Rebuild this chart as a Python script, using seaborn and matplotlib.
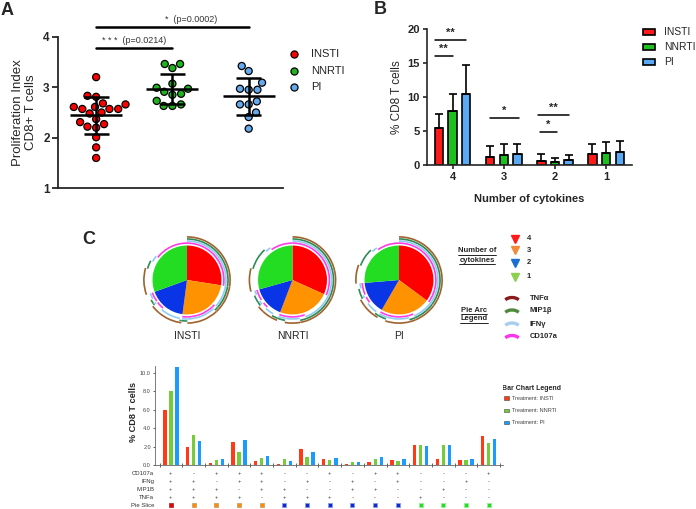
import numpy as np
import pandas as pd
import seaborn as sns
import matplotlib.pyplot as plt
from matplotlib.patches import Arc, Rectangle
from matplotlib.transforms import blended_transform_factory

# ---- data ----
treatments = ['INSTI', 'NNRTI', 'PI']

# A: proliferation index of CD8+ T cells, one value per patient
prolif_insti = [3.20, 2.81, 2.83, 2.68, 2.66, 2.57, 2.57, 2.61, 2.57, 2.61,
                2.50, 2.48, 2.31, 2.37, 2.27, 2.20, 2.22, 2.01, 1.81, 1.60]
prolif_nnrti = [3.46, 3.38, 3.46, 2.99, 2.91, 3.07, 2.85, 2.87, 2.97, 2.73,
                2.63, 2.63, 2.66]
prolif_pi = [3.42, 3.32, 2.95, 2.95, 2.97, 3.09, 2.72, 2.66, 2.66, 2.50,
             2.41, 2.18]

# B: % CD8 T cells by number of cytokines (mean + SD)
n_cytokines = ['4', '3', '2', '1']
mean_insti = [5.45, 1.25, 0.55, 1.55]
mean_nnrti = [7.9, 1.45, 0.5, 1.8]
mean_pi = [10.5, 1.65, 0.7, 1.87]
sd_insti = [2.05, 1.6, 1.02, 1.5]
sd_nnrti = [2.5, 1.6, 0.6, 1.65]
sd_pi = [4.2, 1.5, 0.75, 1.63]

# C: cytokine combinations (CD107a, IFNg, MIP1B, TNFa)
cd107a = list('+-+++--+-++---+')
ifng   = list('++-++-+-+-+--+-')
mip1b  = list('+++-++--++--+--')
tnfa   = list('++++-+++---+---')
combo_insti = [5.95, 2.0, 0.3, 2.55, 0.48, 0.19, 1.8, 0.72, 0.15, 0.36, 0.54, 2.17, 0.72, 0.58, 3.15]
combo_nnrti = [8.0, 3.25, 0.6, 1.48, 0.74, 0.63, 0.92, 0.6, 0.4, 0.72, 0.47, 2.2, 2.2, 0.58, 2.42]
combo_pi = [10.6, 2.6, 0.67, 2.78, 0.96, 0.48, 1.44, 0.83, 0.33, 0.9, 0.65, 2.13, 2.2, 0.72, 2.9]

W, H = 696, 509


def box(l, t, r, b):
    # pixel box -> figure fraction
    return [l / W, 1 - b / H, (r - l) / W, (b - t) / H]


sns.set_style('ticks')
plt.rcParams['font.family'] = ['Liberation Sans', 'DejaVu Sans']

fig = plt.figure(figsize=(W / 100, H / 100), dpi=100)

# overlay in pixel coordinates for labels / legends
ov = fig.add_axes([0, 0, 1, 1])
ov.set_xlim(0, W)
ov.set_ylim(H, 0)
ov.axis('off')

# ---------------- Panel A ----------------
colA = {'INSTI': '#ff0000', 'NNRTI': '#1fb41f', 'PI': '#66aaee'}
df_a = pd.DataFrame({
    'treatment': ['INSTI'] * len(prolif_insti) + ['NNRTI'] * len(prolif_nnrti) + ['PI'] * len(prolif_pi),
    'value': prolif_insti + prolif_nnrti + prolif_pi,
})
axA = fig.add_axes(box(58, 36.7, 283, 188.3))
sns.swarmplot(data=df_a, x='treatment', y='value', hue='treatment', order=treatments,
              palette=colA, size=5.1, edgecolor='black', linewidth=0.9, legend=False, ax=axA)
for i, t in enumerate(treatments):
    v = df_a.loc[df_a.treatment == t, 'value']
    m, s = v.mean(), v.std()
    axA.hlines(m, i - 0.34, i + 0.34, color='black', lw=1.8, zorder=5)
    axA.vlines(i, m - s, m + s, color='black', lw=1.8, zorder=5)
    axA.hlines([m - s, m + s], i - 0.165, i + 0.165, color='black', lw=1.8, zorder=5)
axA.set_xlim(-0.5, 2.45)
axA.set_ylim(1, 4)
axA.set_yticks([1, 2, 3, 4])
axA.set_yticklabels(['1', '2', '3', '4'], fontweight='bold', fontsize=8.5)
axA.set_xticks([])
axA.set_xlabel('')
axA.set_ylabel('Proliferation Index\nCD8+ T cells', fontsize=9.5, labelpad=4)
axA.tick_params(axis='y', length=4, width=1.3, pad=2)
for sp in ['left', 'bottom']:
    axA.spines[sp].set_linewidth(1.3)
sns.despine(ax=axA)
axA.plot([0, 1], [3.78, 3.78], color='black', lw=1.8, clip_on=False)
axA.text(0.5, 3.83, '* * *  (p=0.0214)', ha='center', va='bottom', fontsize=6.5, color='#333333')
axA.plot([0, 2], [4.2, 4.2], color='black', lw=1.8, clip_on=False)
axA.text(1.25, 4.25, '*  (p=0.0002)', ha='center', va='bottom', fontsize=6.5, color='#333333')

for k, t in enumerate(treatments):
    y = 54.3 + 16.5 * k
    ov.plot(294, y, 'o', ms=5.1, mfc=colA[t], mec='black', mew=0.9)
    ov.text(311, y, t, va='center', ha='left', fontsize=8)

# ---------------- Panel B ----------------
colB = {'INSTI': '#ff1a1a', 'NNRTI': '#1fbf1f', 'PI': '#5aa9f5'}
df_b = pd.DataFrame({
    'cyt': n_cytokines * 3,
    'treatment': ['INSTI'] * 4 + ['NNRTI'] * 4 + ['PI'] * 4,
    'pct': mean_insti + mean_nnrti + mean_pi,
})
axB = fig.add_axes(box(427, 29.3, 631.7, 165))
sns.barplot(data=df_b, x='cyt', y='pct', hue='treatment', order=n_cytokines, hue_order=treatments,
            palette=colB, saturation=1, width=0.8, gap=0.38, errorbar=None,
            edgecolor='black', linewidth=1.2, legend=False, ax=axB)
for cont, sds in zip(axB.containers, [sd_insti, sd_nnrti, sd_pi]):
    for bar, s in zip(cont, sds):
        x = bar.get_x() + bar.get_width() / 2
        axB.errorbar(x, bar.get_height(), yerr=[[0], [s]], color='black', lw=1.2,
                     capsize=2.8, capthick=1.2, zorder=1)
axB.set_xlim(-0.5, 3.5)
axB.set_ylim(0, 20)
axB.set_yticks([0, 5, 10, 15, 20])
axB.set_yticklabels(['0', '5', '10', '15', '20'], fontweight='bold', fontsize=8)
axB.set_xticks(range(4))
axB.set_xticklabels(n_cytokines, fontweight='bold', fontsize=8)
axB.set_xlabel('Number of cytokines', fontweight='bold', fontsize=8, labelpad=9)
axB.set_ylabel('% CD8 T cells', fontsize=8.5, labelpad=3)
axB.tick_params(length=3, width=1.2, pad=2)
for sp in ['left', 'bottom']:
    axB.spines[sp].set_linewidth(1.2)
sns.despine(ax=axB)

# significance brackets (group, x0 offset, x1 offset, y, label)
sig_b = [(0, -0.35, 0.27, 18.4, '**'), (0, -0.35, 0.0, 16.0, '**'),
         (1, -0.27, 0.29, 6.9, '*'), (2, -0.33, 0.28, 7.4, '**'), (2, -0.29, 0.04, 4.8, '*')]
for g, a, b, y, lab in sig_b:
    axB.plot([g + a, g + b], [y, y], color='black', lw=1.1)
    axB.text(g + (a + b) / 2, y + 0.35, lab, ha='center', va='bottom', fontsize=8, fontweight='bold')

for k, t in enumerate(treatments):
    y = 31.5 + 15.3 * k
    ov.add_patch(Rectangle((642.5, y - 3), 12.5, 6, facecolor=colB[t], edgecolor='black', lw=1.2))
    ov.text(664, y, t, va='center', ha='left', fontsize=7.4)

# ---------------- Panel C: pies ----------------
slice_cols = ['#ff0000', '#ff9200', '#0a35e6', '#22dd22']
rings = [(cd107a, 1.07, '#ff3de6'), (ifng, 1.13, '#8fcdf2'),
         (mip1b, 1.19, '#2e8b57'), (tnfa, 1.25, '#a0622d')]
n_pos = [sum(c[j] == '+' for c in (cd107a, ifng, mip1b, tnfa)) for j in range(15)]

for t, vals, cx in zip(treatments, [combo_insti, combo_nnrti, combo_pi], [187, 292.5, 399]):
    cy = 280
    pax = fig.add_axes(box(cx - 50, cy - 50, cx + 50, cy + 50))
    slices = [sum(v for v, n in zip(vals, n_pos) if n == k) for k in [4, 3, 2, 1]]
    pax.pie(slices, colors=slice_cols, startangle=90, counterclock=False, radius=1,
            wedgeprops={'linewidth': 0, 'edgecolor': 'none'})
    total = sum(vals)
    start = 90
    for j, v in enumerate(vals):
        span = 360 * v / total
        for flags, r, c in rings:
            if flags[j] == '+':
                pax.add_patch(Arc((0, 0), 2 * r, 2 * r, theta1=start - span, theta2=start,
                                  color=c, lw=1.2))
        start -= span
    pax.set_xlim(-1.45, 1.45)
    pax.set_ylim(-1.45, 1.45)
    pax.axis('off')
    ov.text(cx, 336, t, ha='center', va='center', fontsize=7.5)

# legend for pies
renderer = fig.canvas.get_renderer()


def underlined(x, y, s):
    txt = ov.text(x, y, s, ha='center', va='center', fontsize=5.5, fontweight='bold')
    bb = txt.get_window_extent(renderer=renderer).transformed(ov.transData.inverted())
    ov.plot([bb.x0, bb.x1], [y + 3.6, y + 3.6], color='black', lw=0.6)


underlined(477, 251, 'Number of')
underlined(477, 260, 'cytokines')
underlined(474, 310, 'Pie Arc')
underlined(474, 319, 'Legend')

tri_cols = ['#ff1a1a', '#f28c3c', '#1a6fd0', '#8cd050']
for lab, y, c in zip(['4', '3', '2', '1'], [239, 250, 262.7, 276.7], tri_cols):
    ov.plot(515, y, marker='v', ms=6, color=c)
    ov.text(527, y, lab, va='center', ha='left', fontsize=5.5, fontweight='bold')

arc_leg = [('TNFα', '#8b1a1a'), ('MIP1β', '#4f8a3c'), ('IFNγ', '#a8cdef'), ('CD107a', '#ff33ee')]
for (lab, c), y in zip(arc_leg, [299, 311.5, 324.5, 337]):
    ov.add_patch(Arc((512, y + 5.5), 18, 14, theta1=215, theta2=325, color=c, lw=2.4))
    ov.text(530, y - 0.5, lab, va='center', ha='left', fontsize=5.5, fontweight='bold')

ov.text(502, 388, 'Bar Chart Legend', ha='left', va='center', fontsize=5, fontweight='bold')
colC = {'INSTI': '#ff3a14', 'NNRTI': '#72cd38', 'PI': '#1a9bff'}
for t, y in zip(treatments, [398, 410.5, 422.5]):
    ov.add_patch(Rectangle((504, y - 1.8), 5, 3.6, facecolor=colC[t], edgecolor='#444444', lw=0.4))
    ov.text(511.5, y, 'Treatment: ' + t, va='center', ha='left', fontsize=4, color='#444444')

# ---------------- Panel C: combination bars ----------------
df_c = pd.DataFrame({
    'combo': [str(j) for j in range(15)] * 3,
    'treatment': ['INSTI'] * 15 + ['NNRTI'] * 15 + ['PI'] * 15,
    'pct': combo_insti + combo_nnrti + combo_pi,
})
axC = fig.add_axes(box(155, 465.3 - 99.7, 503, 465.3))
sns.barplot(data=df_c, x='combo', y='pct', hue='treatment', hue_order=treatments,
            palette=colC, saturation=1, width=0.8, gap=0.45, errorbar=None,
            linewidth=0, edgecolor='none', legend=False, ax=axC)
axC.set_xlim(-0.7, 14.63)
axC.set_ylim(0, 10.8)
axC.set_yticks([0, 2, 4, 6, 8, 10])
axC.set_yticklabels(['0.0', '2.0', '4.0', '6.0', '8.0', '10.0'], fontsize=4, color='#444444')
axC.set_xticks(np.arange(-0.5, 15, 1))
axC.set_xticklabels([])
axC.tick_params(axis='y', length=1.5, width=0.5, pad=1.5)
axC.tick_params(axis='x', length=3, width=0.5, direction='inout')
axC.set_xlabel('')
axC.set_ylabel('')
for sp in ['left', 'bottom']:
    axC.spines[sp].set_linewidth(0.6)
    axC.spines[sp].set_color('#666666')
sns.despine(ax=axC)
ov.text(133, 412, '% CD8 T cells', rotation=90, ha='center', va='center', fontsize=6.6, fontweight='bold')

# combination table under the bars
tr = blended_transform_factory(axC.transData, axC.transAxes)
row_names = ['CD107a', 'IFNg', 'MIP1B', 'TNFa', 'Pie Slice']
row_y = [-0.084, -0.164, -0.245, -0.321, -0.401]
for name, ry in zip(row_names, row_y):
    axC.text(-0.73, ry, name, transform=tr, ha='right', va='center', fontsize=4.3, color='#333333')
for flags, ry in zip([cd107a, ifng, mip1b, tnfa], row_y[:4]):
    for j, f in enumerate(flags):
        axC.text(j, ry, f, transform=tr, ha='center', va='center', fontsize=4.3, color='#333333')
sq_face = {4: '#ee0000', 3: '#ff8c00', 2: '#0a2bd6', 1: '#22dd22'}
sq_edge = {4: '#aa3333', 3: '#c8a070', 2: '#8899dd', 1: '#99ee99'}
for j, n in enumerate(n_pos):
    axC.plot(j, row_y[4], marker='s', ms=3, mfc=sq_face[n], mec=sq_edge[n], mew=0.6,
             transform=tr, clip_on=False)

# panel letters
ov.text(7.5, 10.5, 'A', ha='center', va='center', fontsize=13, fontweight='bold')
ov.text(380, 9.5, 'B', ha='center', va='center', fontsize=13, fontweight='bold')
ov.text(89, 239, 'C', ha='center', va='center', fontsize=13, fontweight='bold')

fig.savefig('out.png', dpi=100)
